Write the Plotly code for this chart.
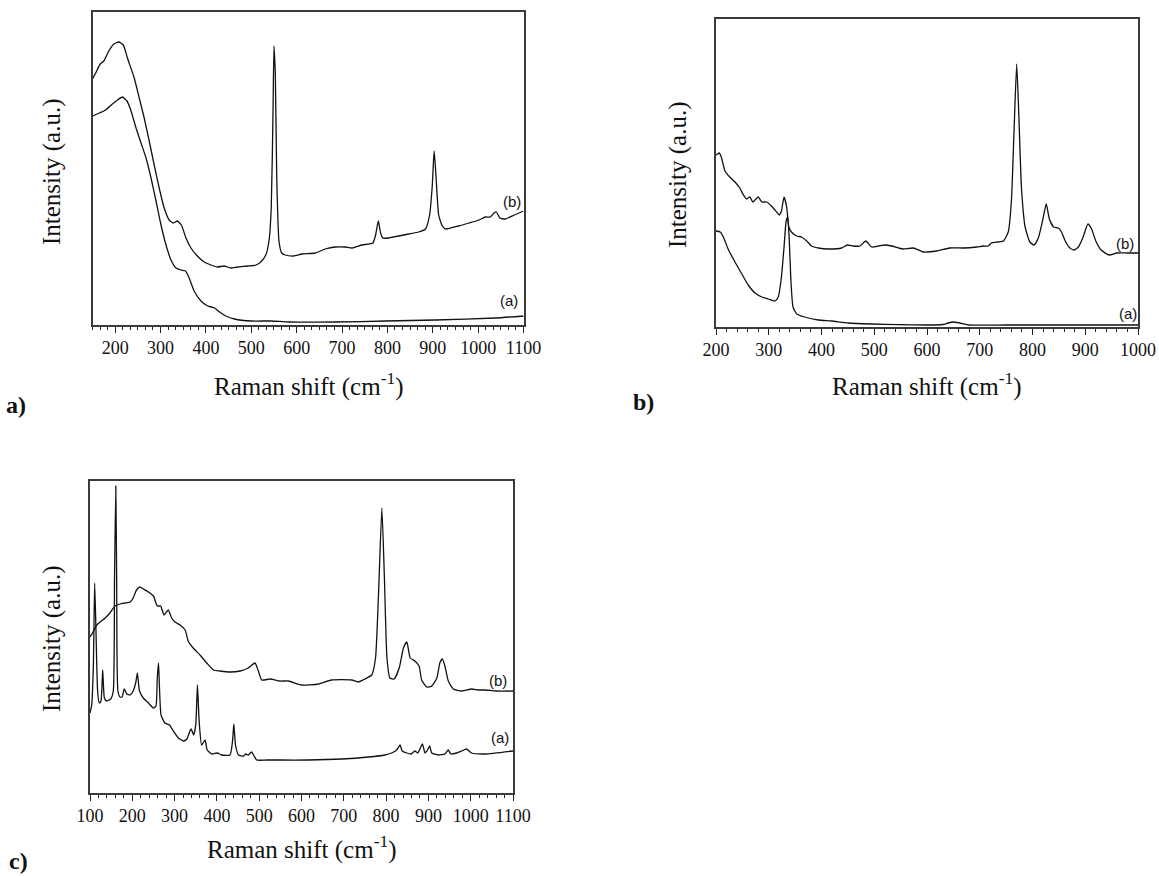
import plotly.graph_objects as go

W, H = 1159, 876

# ---- Spectra: Raman shift (cm-1) and intensity (a.u.) ----
# Panel a
a_b_shift = [150, 157, 167, 175, 186, 197, 208, 218, 227, 242, 253, 264, 275, 286, 297, 308,
             319, 328, 337, 346, 356, 367, 381, 396, 411, 425, 440, 455, 470, 492, 510, 521,
             532, 539, 544, 548, 550, 553, 556, 561, 567, 575, 593, 612, 641, 663, 685, 707,
             722, 744, 768, 774, 780, 785, 790, 803, 825, 847, 869, 884, 893, 899, 903, 907,
             913, 921, 928, 957, 980, 1002, 1016, 1027, 1035, 1040, 1048, 1060, 1080, 1100]
a_b_int = [246, 252, 261, 264, 274, 281, 283, 280, 267, 247, 227, 207, 184, 160, 137, 117,
           105, 102, 104, 100, 87, 77, 69, 63, 60, 58, 59, 57, 58, 59, 60, 63,
           70, 84, 117, 217, 279, 250, 150, 84, 72, 70, 69, 71, 72, 76, 78, 78,
           77, 80, 82, 90, 104, 92, 87, 87, 89, 91, 93, 96, 110, 140, 174, 150,
           110, 99, 96, 99, 102, 105, 108, 108, 112, 113, 107, 106, 110, 114]

a_a_shift = [150, 165, 179, 194, 205, 216, 226, 235, 246, 257, 268, 279, 290, 301, 312, 323,
             334, 345, 355, 363, 374, 389, 404, 419, 430, 444, 463, 500, 544, 584, 685, 796,
             906, 1039, 1100]
a_a_int = [209, 212, 215, 221, 225, 228, 224, 214, 197, 182, 167, 147, 124, 100, 80, 65,
           57, 55, 54, 47, 34, 24, 19, 17, 13, 9, 6, 4, 4, 3, 3, 4,
           5, 7, 9]

# Panel b
b_b_shift = [200, 206, 210, 217, 226, 236, 245, 251, 258, 264, 270, 280, 287, 296, 305, 315,
             320, 324, 329, 334, 338, 343, 353, 362, 372, 381, 394, 413, 438, 449, 460, 473,
             484, 495, 508, 520, 533, 546, 555, 574, 593, 618, 643, 669, 694, 707, 716, 722,
             735, 745, 754, 760, 765, 770, 774, 779, 786, 795, 803, 811, 819, 826, 832, 840,
             849, 855, 862, 871, 879, 887, 896, 905, 912, 920, 930, 945, 960, 980, 1000]
b_b_int = [172, 174, 170, 156, 150, 145, 139, 133, 128, 130, 125, 130, 125, 125, 121, 115,
           112, 116, 130, 120, 100, 95, 91, 90, 86, 81, 79, 78, 79, 82, 81, 81,
           86, 80, 81, 82, 81, 79, 78, 79, 75, 76, 79, 79, 80, 81, 81, 84,
           85, 86, 95, 126, 196, 263, 213, 140, 100, 85, 82, 89, 106, 123, 108, 100,
           99, 95, 86, 79, 77, 80, 90, 103, 98, 86, 77, 72, 74, 74, 74]

b_a_shift = [200, 208, 214, 223, 236, 249, 261, 274, 287, 299, 312, 318, 324, 329, 333, 336,
             339, 342, 346, 353, 368, 394, 419, 451, 495, 546, 600, 630, 640, 650, 662, 680,
             750, 850, 1000]
b_a_int = [96, 95, 90, 78, 65, 53, 42, 34, 30, 28, 26, 30, 50, 80, 106, 110,
           86, 46, 20, 13, 10, 7, 6, 4, 3, 2.3, 2, 2.5, 4, 5, 4, 2,
           2, 2, 2]

# Panel c
c_b_shift = [100, 106, 116, 124, 136, 147, 159, 171, 183, 195, 202, 210, 218, 226, 238, 250,
             259, 267, 275, 285, 293, 301, 313, 325, 332, 344, 360, 376, 392, 407, 431, 455,
             474, 490, 498, 506, 526, 549, 569, 600, 640, 671, 719, 734, 750, 766, 775, 782,
             790, 796, 802, 809, 819, 831, 841, 849, 857, 868, 878, 884, 896, 908, 920, 927,
             933, 939, 947, 959, 979, 1002, 1018, 1034, 1060, 1100]
c_b_int = [156, 160, 168, 171, 175, 180, 187, 189, 190, 191, 195, 203, 206, 204, 201, 197,
           187, 187, 178, 183, 175, 171, 168, 163, 152, 145, 138, 130, 123, 122, 121, 122,
           125, 130, 122, 113, 114, 112, 112, 108, 109, 113, 113, 111, 114, 118, 135, 198,
           285, 215, 135, 115, 114, 125, 145, 151, 135, 132, 127, 113, 106, 107, 115, 130,
           134, 127, 112, 104, 102, 104, 103, 103, 102, 102]

c_a_shift = [100, 104, 108, 111, 114, 118, 122, 126, 130, 134, 139, 149, 155, 158, 161, 163,
             166, 171, 176, 181, 187, 195, 202, 208, 212, 217, 226, 238, 250, 256, 259, 262,
             264, 268, 277, 288, 297, 309, 321, 329, 339, 345, 350, 354, 358, 364, 372, 377,
             388, 401, 411, 431, 437, 440, 444, 451, 463, 468, 474, 482, 488, 494, 518, 550,
             616, 695, 758, 797, 813, 825, 833, 838, 849, 859, 868, 875, 882, 886, 892, 898,
             903, 908, 923, 939, 947, 953, 967, 979, 990, 1002, 1034, 1100]
c_a_int = [80, 88, 128, 210, 165, 102, 90, 92, 123, 95, 92, 94, 102, 215, 307, 215,
           102, 96, 96, 104, 99, 98, 102, 110, 120, 102, 95, 90, 85, 87, 115, 130,
           108, 78, 70, 68, 62, 55, 52, 54, 64, 58, 68, 108, 72, 48, 53, 43,
           39, 40, 38, 38, 52, 69, 48, 38, 37, 39, 38, 41, 37, 33, 33, 33,
           33, 34, 36, 38, 40, 43, 48, 42, 40, 39, 42, 40, 46, 49, 40, 43,
           47, 40, 38, 39, 43, 39, 40, 42, 44, 40, 39, 42]

tick_labels_a = [str(v) for v in range(200, 1101, 100)]
tick_labels_b = [str(v) for v in range(200, 1001, 100)]
tick_labels_c = [str(v) for v in range(100, 1101, 100)]

SERIF = "Liberation Serif, Times New Roman, serif"
SANS = "Liberation Sans, Arial, sans-serif"
LINE = dict(color="#111111", width=1.3, shape="spline", smoothing=0.5)


def px(x):
    return x / W


def py(y):
    return 1 - y / H


fig = go.Figure()
for shift, inten, ax in [(a_b_shift, a_b_int, ""), (a_a_shift, a_a_int, ""),
                         (b_b_shift, b_b_int, "2"), (b_a_shift, b_a_int, "2"),
                         (c_b_shift, c_b_int, "3"), (c_a_shift, c_a_int, "3")]:
    fig.add_trace(go.Scatter(x=shift, y=inten, mode="lines", line=LINE,
                             xaxis="x" + ax, yaxis="y" + ax, showlegend=False,
                             hoverinfo="skip"))

frame = dict(showline=True, mirror=True, linecolor="#3a3a3a", linewidth=1.5,
             showgrid=False, zeroline=False, automargin=False)


def xax(domain, rng, labels, minor_step, anchor):
    vals = [int(v) for v in labels]
    return dict(frame, domain=domain, range=rng, anchor=anchor,
                tickmode="array", tickvals=vals, ticktext=labels,
                ticks="outside", ticklen=6, tickwidth=1.2, tickcolor="#222",
                tickfont=dict(family=SERIF, size=18, color="#111"),
                minor=dict(ticks="outside", ticklen=3.5, tickwidth=1.1, tickcolor="#222",
                           dtick=minor_step, tick0=vals[0]))


def yax(domain, rng, anchor):
    return dict(frame, domain=domain, range=rng, anchor=anchor,
                showticklabels=False, ticks="")


fig.update_layout(
    width=W, height=H, margin=dict(l=0, r=0, t=0, b=0),
    paper_bgcolor="white", plot_bgcolor="white",
    xaxis=xax([px(92.5), px(523.5)], [150, 1100], tick_labels_a, 100 / 6, "y"),
    yaxis=yax([py(325), py(12)], [0, 313], "x"),
    xaxis2=xax([px(716), px(1138)], [200, 1000], tick_labels_b, 20, "y2"),
    yaxis2=yax([py(327), py(19)], [0, 308], "x2"),
    xaxis3=xax([px(90), px(513)], [100, 1100], tick_labels_c, 20, "y3"),
    yaxis3=yax([py(793), py(481)], [0, 312], "x3"),
)

notes = []
# Axis titles
for cx, cy in [(309, 384), (927, 384), (302, 847)]:
    notes.append(dict(x=px(cx), y=py(cy), text="Raman shift (cm<sup>-1</sup>)",
                      font=dict(family=SERIF, size=25, color="#111")))
for cx, cy in [(52, 172), (678, 175), (52, 639)]:
    notes.append(dict(x=px(cx), y=py(cy), text="Intensity (a.u.)", textangle=-90,
                      font=dict(family=SERIF, size=25, color="#111")))
# Panel letters
for cx, cy, t in [(16, 405, "a)"), (643, 402, "b)")]:
    notes.append(dict(x=px(cx), y=py(cy), text="<b>" + t + "</b>",
                      font=dict(family=SERIF, size=24, color="#111")))
notes.append(dict(x=px(18), y=0, text="<b>c)</b>", yanchor="bottom",
                  font=dict(family=SERIF, size=24, color="#111")))
# Curve labels
for cx, cy, t in [(512, 202, "(b)"), (509, 300, "(a)"), (1125, 243, "(b)"),
                  (1128, 314, "(a)"), (498, 680, "(b)"), (500, 737, "(a)")]:
    notes.append(dict(x=px(cx), y=py(cy), text=t,
                      font=dict(family=SANS, size=15, color="#111")))

for n in notes:
    n.setdefault("yanchor", "middle")
    n.update(xref="paper", yref="paper", showarrow=False, xanchor="center")
fig.update_layout(annotations=notes)

fig.write_html("out.html")
